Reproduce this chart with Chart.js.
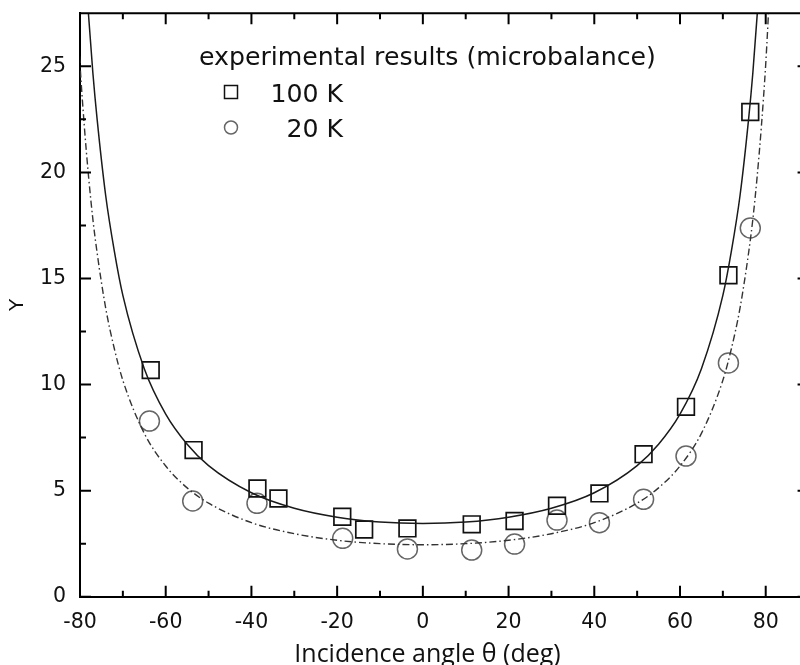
<!DOCTYPE html>
<html>
<head>
<meta charset="utf-8">
<script src="https://cdn.jsdelivr.net/npm/chart.js@4.4.1/dist/chart.umd.min.js"></script>
<style>
  html, body { margin: 0; padding: 0; background: #fff; overflow: hidden; }
  #wrap { width: 800px; height: 665px; }
</style>
</head>
<body>
<div id="wrap"><canvas id="chart" width="800" height="665"></canvas></div>
<script>
// measured points (microbalance)
const sqAngles = [-63.5, -53.5, -38.6, -33.7, -18.8, -13.7, -3.6, 11.4, 21.4, 31.3, 41.2, 51.5, 61.4, 71.3, 76.4];
const sqYield  = [10.68, 6.91, 5.10, 4.63, 3.77, 3.17, 3.22, 3.41, 3.57, 4.29, 4.87, 6.72, 8.95, 15.15, 22.85];
const ciAngles = [-63.8, -53.7, -38.7, -18.7, -3.6, 11.4, 21.4, 31.3, 41.2, 51.5, 61.4, 71.3, 76.4];
const ciYield  = [8.28, 4.51, 4.40, 2.75, 2.25, 2.20, 2.48, 3.61, 3.49, 4.59, 6.63, 11.02, 17.38];

// fit curves
const fitAngles = [-81, -80, -79, -78, -77, -76, -74, -72, -70, -65, -60, -55, -50, -40, -30, -20, -10, 0,
                   10, 20, 30, 40, 50, 55, 60, 65, 70, 72, 74, 76, 77, 78, 79, 80, 81];
const fit100K = [39.9, 34.8, 30.7, 27.4, 24.7, 22.5, 18.9, 16.3, 14.2, 10.75, 8.61, 7.19, 6.18, 4.90, 4.17, 3.75, 3.52, 3.45,
                 3.52, 3.75, 4.17, 4.90, 6.18, 7.19, 8.61, 10.75, 14.2, 16.3, 18.9, 22.5, 24.7, 27.4, 30.7, 34.8, 39.9];
const fit20K  = [28.9, 25.1, 22.2, 19.8, 17.8, 16.2, 13.6, 11.7, 10.2, 7.70, 6.16, 5.13, 4.41, 3.49, 2.97, 2.66, 2.50, 2.45,
                 2.50, 2.66, 2.97, 3.49, 4.41, 5.13, 6.16, 7.70, 10.2, 11.7, 13.6, 16.2, 17.8, 19.8, 22.2, 25.1, 28.9];

// the original frame runs to 90 deg but the picture is cropped at ~88
const xVisibleMax = 88;
const xFrameMax = 90;
const xTicks = [-80, -60, -40, -20, 0, 20, 40, 60, 80];
const xMinor = [-70, -50, -30, -10, 10, 30, 50, 70];
const yTicks = [0, 5, 10, 15, 20, 25];
const yMinor = [2.5, 7.5, 12.5, 17.5, 22.5];

const legendTitle = 'experimental results (microbalance)';
const legendLabels = ['100 K', '20 K'];
const xTitle = 'Incidence angle θ (deg)';
const yTitle = 'Y';

const tickFont = { family: 'DejaVu Sans', size: 20.5 };

function pts(xs, ys) {
    return xs.map((x, i) => ({ x: x, y: ys[i] }));
}

// kill the label overhang padding chart.js adds, so the plot box sits where we want it
function noPad(s) {
    s.paddingTop = 0; s.paddingBottom = 0; s.paddingLeft = 0; s.paddingRight = 0;
}

// frame on top/right, inward ticks, legend block and axis titles
const framePlugin = {
    id: 'frame',
    afterDraw(chart) {
        const ctx = chart.ctx;
        const a = chart.chartArea;
        const xs = chart.scales.x, ys = chart.scales.y;
        const right = xs.getPixelForValue(xFrameMax);
        ctx.save();
        ctx.strokeStyle = '#000';
        ctx.lineWidth = 2;
        ctx.beginPath();
        ctx.moveTo(a.left, a.top); ctx.lineTo(right, a.top);
        ctx.moveTo(right, a.top); ctx.lineTo(right, a.bottom);
        const tick = (vals, len) => {
            vals.forEach(v => {
                const px = xs.getPixelForValue(v);
                ctx.moveTo(px, a.bottom); ctx.lineTo(px, a.bottom - len);
                ctx.moveTo(px, a.top); ctx.lineTo(px, a.top + len);
            });
        };
        const tickY = (vals, len) => {
            vals.forEach(v => {
                const py = ys.getPixelForValue(v);
                ctx.moveTo(a.left, py); ctx.lineTo(a.left + len, py);
                ctx.moveTo(right, py); ctx.lineTo(right - len, py);
            });
        };
        tick(xTicks, 11); tick(xMinor, 6);
        tickY(yTicks, 11); tickY(yMinor, 6);
        ctx.stroke();

        // legend block
        ctx.fillStyle = '#111';
        ctx.font = '25.2px "DejaVu Sans"';
        ctx.textBaseline = 'alphabetic';
        ctx.textAlign = 'left';
        ctx.fillText(legendTitle, 199, 65);
        ctx.textAlign = 'right';
        ctx.fillText(legendLabels[0], 343, 101.5);
        ctx.fillText(legendLabels[1], 343, 137);
        ctx.lineWidth = 1.5;
        ctx.strokeStyle = '#111';
        ctx.strokeRect(224.5, 85.5, 13, 13);
        ctx.strokeStyle = '#666';
        ctx.beginPath();
        ctx.arc(231, 127.5, 6.5, 0, Math.PI * 2);
        ctx.stroke();

        // axis titles
        ctx.fillStyle = '#111';
        ctx.textAlign = 'center';
        ctx.font = '25px "Open Sans"';
        ctx.fillText(xTitle, 427.5, 662);
        ctx.translate(17.5, 305);
        ctx.rotate(-Math.PI / 2);
        ctx.font = '20px "DejaVu Sans"';
        ctx.textBaseline = 'middle';
        ctx.fillText(yTitle, 0, 0);
        ctx.restore();
    }
};

new Chart(document.getElementById('chart'), {
    type: 'scatter',
    data: {
        datasets: [
            {
                type: 'line', data: pts(fitAngles, fit100K), borderColor: '#1a1a1a', borderWidth: 1.5,
                pointRadius: 0, cubicInterpolationMode: 'monotone', fill: false
            },
            {
                type: 'line', data: pts(fitAngles, fit20K), borderColor: '#333', borderWidth: 1.4,
                borderDash: [7, 3, 1.5, 3], pointRadius: 0, cubicInterpolationMode: 'monotone', fill: false
            },
            {
                data: pts(sqAngles, sqYield), pointStyle: 'rect', pointRadius: 11.8,
                borderColor: '#111', borderWidth: 1.7, backgroundColor: 'rgba(0,0,0,0)'
            },
            {
                data: pts(ciAngles, ciYield), pointStyle: 'circle', pointRadius: 10,
                borderColor: '#666', borderWidth: 1.5, backgroundColor: 'rgba(0,0,0,0)'
            }
        ]
    },
    options: {
        responsive: false,
        animation: false,
        layout: { autoPadding: false, padding: { top: 13.3, right: 0, left: 0, bottom: 0 } },
        plugins: { legend: { display: false }, tooltip: { enabled: false } },
        scales: {
            x: {
                type: 'linear', min: -80, max: xVisibleMax,
                grid: { display: false, drawTicks: false },
                border: { display: true, color: '#000', width: 2 },
                afterBuildTicks: s => { s.ticks = xTicks.map(v => ({ value: v })); },
                afterFit: s => { s.height = 68.3; noPad(s); },
                ticks: { color: '#111', font: tickFont, padding: 14, maxRotation: 0 }
            },
            y: {
                type: 'linear', min: 0, max: 27.5,
                grid: { display: false, drawTicks: false },
                border: { display: true, color: '#000', width: 2 },
                afterBuildTicks: s => { s.ticks = yTicks.map(v => ({ value: v })); },
                afterFit: s => { s.width = 80; noPad(s); },
                ticks: { color: '#111', font: tickFont, padding: 14 }
            }
        }
    },
    plugins: [framePlugin]
});
</script>
</body>
</html>
